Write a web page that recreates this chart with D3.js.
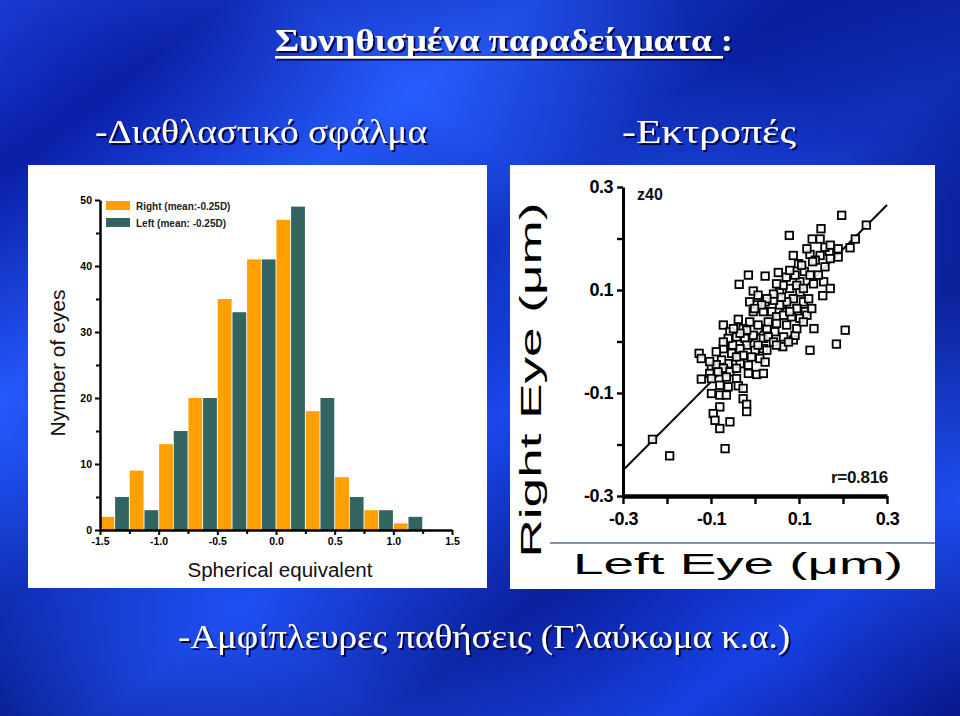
<!DOCTYPE html>
<html><head><meta charset="utf-8">
<script src="https://cdn.jsdelivr.net/npm/d3@7"></script>
<style>html,body{margin:0;padding:0;background:#0b2fd0;}svg{display:block;}</style>
</head><body>
<script>
// ---------- DATA ----------
const slideTitle = "Συνηθισμένα παραδείγματα :";
const leftHeading = "-Διαθλαστικό σφάλμα";
const rightHeading = "-Εκτροπές";
const bottomLine = "-Αμφίπλευρες παθήσεις (Γλαύκωμα κ.α.)";

// Histogram
const binStarts = [-1.5,-1.25,-1.0,-0.75,-0.5,-0.25,0.0,0.25,0.5,0.75,1.0,1.25];
const binWidth = 0.25;
const rightCounts = [2,9,13,20,35,41,47,18,8,3,1,0];
const leftCounts  = [5,3,15,20,33,41,49,20,5,3,2,0];
const seriesNames = ["Right (mean:-0.25D)","Left (mean: -0.25D)"];
const histXTicks = [-1.5,-1.0,-0.5,0.0,0.5,1.0,1.5];
const histXMinor = [-1.25,-0.75,-0.25,0.25,0.75,1.25];
const histYTicks = [0,10,20,30,40,50];
const histYMinor = [5,15,25,35,45];
const histYTitle = "Nymber of eyes";
const histXTitle = "Spherical equivalent";

// Scatter (Left eye x, Right eye y), z40 coefficient in µm
const leftEye = [0.197,0.253,0.150,0.078,0.130,0.148,0.228,0.216,0.189,0.169,0.189,0.087,0.125,0.148,0.137,0.099,0.112,0.131,0.159,0.171,
 0.156,0.171,0.154,0.133,0.144,0.125,0.102,0.091,0.071,0.053,0.023,-0.015,-0.036,-0.004,0.007,0.056,0.079,0.102,0.087,0.110,
 0.095,0.114,0.072,0.056,0.042,0.023,0.004,-0.004,0.019,0.038,0.049,0.065,0.083,0.102,0.118,0.134,0.205,0.185,0.125,0.087,
 0.091,0.065,0.045,0.027,0.007,-0.012,-0.027,-0.038,-0.072,-0.057,-0.042,-0.023,-0.004,0.019,0.030,0.042,0.063,0.019,0.000,-0.019,
 -0.034,-0.051,-0.072,-0.053,-0.027,-0.008,0.011,0.023,-0.015,-0.034,-0.061,-0.076,-0.127,-0.122,-0.099,-0.088,-0.072,-0.057,-0.042,-0.103,
 -0.084,-0.122,-0.099,-0.065,-0.042,-0.015,0.004,0.019,-0.080,-0.061,-0.038,-0.027,-0.099,-0.080,-0.065,-0.027,-0.019,-0.019,-0.080,-0.095,
 -0.091,-0.080,-0.057,-0.068,-0.233,-0.194,0.030,0.049,0.072,0.095,0.110,0.079,0.060,0.042,0.027,0.015,-0.012,-0.001,0.095,0.110,
 0.122,0.129,0.064,0.049,0.079,0.106,0.118,0.159,0.171,-0.019,-0.034,-0.049,-0.061,-0.072,-0.088,-0.103,-0.042,0.007,0.027,0.049,0.076];
const rightEye = [0.245,0.226,0.219,0.206,0.199,0.199,0.199,0.182,0.180,0.175,0.164,0.167,0.169,0.167,0.158,0.151,0.136,0.155,0.145,0.161,
 0.116,0.103,0.089,0.112,0.129,0.129,0.116,0.129,0.125,0.134,0.127,0.129,0.111,0.098,0.090,0.096,0.103,0.096,0.083,0.077,
 0.064,0.058,0.077,0.071,0.080,0.077,0.071,0.058,0.058,0.058,0.048,0.051,0.048,0.045,0.051,0.025,0.022,-0.005,-0.017,0.003,
 0.012,0.009,0.019,0.025,0.032,0.038,0.025,0.043,0.032,0.019,0.009,0.006,0.012,0.006,0.009,-0.001,-0.010,-0.014,-0.017,-0.007,
 -0.014,-0.007,-0.014,-0.023,-0.027,-0.030,-0.033,-0.040,-0.046,-0.043,-0.043,-0.036,-0.023,-0.033,-0.049,-0.045,-0.052,-0.059,-0.052,-0.062,
 -0.059,-0.073,-0.072,-0.069,-0.072,-0.062,-0.064,-0.062,-0.085,-0.088,-0.086,-0.091,-0.101,-0.104,-0.104,-0.111,-0.122,-0.136,-0.127,-0.140,
 -0.153,-0.169,-0.156,-0.208,-0.190,-0.222,0.038,0.035,0.032,0.025,0.038,0.058,0.086,0.092,0.083,0.071,0.077,0.064,0.109,0.103,
 0.083,0.064,0.109,0.112,0.138,0.148,0.180,0.183,0.187,0.022,0.016,0.025,0.006,-0.001,-0.020,-0.039,-0.030,-0.007,-0.017,-0.007,-0.001];
const fitX = [-0.3, 0.3];
const fitY = [-0.25, 0.265];
const scatTicks = [-0.3,-0.1,0.1,0.3];
const scatMinor = [-0.2,0.0,0.2];
const scatXTitle = "Left Eye (μm)";
const scatYTitle = "Right Eye (μm)";
const coefLabel = "z40";
const corrLabel = "r=0.816";

// ---------- DRAW ----------
const W = 960, H = 716;
const svg = d3.select("body").append("svg").attr("width", W).attr("height", H);
const defs = svg.append("defs");

const bg = defs.append("linearGradient").attr("id","bg")
  .attr("x1","0").attr("y1","0").attr("x2","1").attr("y2","1");
[[0,"#1a3cd8"],[0.12,"#0a1ea8"],[0.28,"#2458ff"],[0.42,"#0d2cc0"],[0.55,"#1c48f0"],[0.7,"#0a1f9e"],[0.85,"#1742e8"],[1,"#08168a"]]
  .forEach(([o,c]) => bg.append("stop").attr("offset",o).attr("stop-color",c));
const bg2 = defs.append("linearGradient").attr("id","bg2")
  .attr("x1","0").attr("y1","1").attr("x2","1").attr("y2","0");
[[0,"rgba(0,10,90,0.55)"],[0.2,"rgba(40,100,255,0.25)"],[0.45,"rgba(0,10,90,0.0)"],[0.65,"rgba(50,110,255,0.25)"],[0.85,"rgba(0,10,100,0.35)"],[1,"rgba(0,10,100,0.5)"]]
  .forEach(([o,c]) => bg2.append("stop").attr("offset",o).attr("stop-color",c));
svg.append("rect").attr("width",W).attr("height",H).attr("fill","url(#bg)");
svg.append("rect").attr("width",W).attr("height",H).attr("fill","url(#bg2)");

const shadow = defs.append("filter").attr("id","shadow").attr("x","-5%").attr("y","-20%").attr("width","115%").attr("height","150%");
shadow.append("feDropShadow").attr("dx",2).attr("dy",2).attr("stdDeviation",0.6).attr("flood-color","#000030").attr("flood-opacity",0.9);

const serif = "'Liberation Serif','Times New Roman',serif";
const sans = "'Liberation Sans',Arial,Helvetica,sans-serif";

function shadowText(x, y, txt, size, weight, len, underline) {
  const g = svg.append("g").attr("filter","url(#shadow)");
  g.append("text").attr("x", x).attr("y", y).text(txt)
    .attr("font-family", serif).attr("font-size", size).attr("font-weight", weight)
    .attr("fill", "#fff").attr("textLength", len).attr("lengthAdjust","spacingAndGlyphs");
  if (underline) g.append("rect").attr("x", x).attr("y", y+5).attr("width", underline).attr("height", 2.5).attr("fill", "#fff");
}
shadowText(275, 51, slideTitle, 32, "bold", 458, 448);
shadowText(95, 143, leftHeading, 34, "normal", 332, 0);
shadowText(622, 143, rightHeading, 34, "normal", 174, 0);
shadowText(178, 648, bottomLine, 34, "normal", 612, 0);

// ---------- Histogram panel ----------
svg.append("rect").attr("x",28).attr("y",165).attr("width",459).attr("height",423).attr("fill","#ffffff");
const xH = d3.scaleLinear().domain([-1.5,1.5]).range([100,452]);
const yH = d3.scaleLinear().domain([0,50]).range([530,200]);
const sub = d3.scaleBand().domain(["R","L"]).range([0, xH(binWidth)-xH(0)]).paddingInner(0.06).paddingOuter(0.03);
const colors = {R:"#ff9f00", L:"#336461"};
const hist = svg.append("g");
binStarts.forEach((b,i) => {
  [["R",rightCounts[i]],["L",leftCounts[i]]].forEach(([k,v]) => {
    if (v <= 0) return;
    hist.append("rect").attr("x", xH(b)+sub(k)).attr("width", sub.bandwidth())
      .attr("y", yH(v)).attr("height", yH(0)-yH(v)).attr("fill", colors[k]);
  });
});
const fmt1 = d => d.toFixed(1);
function styleAxis(g, fs, sw) {
  g.select(".domain").attr("stroke","#000").attr("stroke-width", sw);
  g.selectAll(".tick line").attr("stroke","#000").attr("stroke-width", sw*0.8);
  g.selectAll("text").attr("font-family", sans).attr("font-weight","bold").attr("font-size", fs).attr("fill","#000");
}
const hy = svg.append("g").attr("transform","translate(100,0)")
  .call(d3.axisLeft(yH).tickValues(histYTicks).tickSize(5).tickSizeOuter(0).tickPadding(3));
styleAxis(hy, 10.5, 2.5);
const hyM = svg.append("g").attr("transform","translate(100,0)")
  .call(d3.axisLeft(yH).tickValues(histYMinor).tickSize(4).tickFormat(""));
hyM.select(".domain").remove(); hyM.selectAll("line").attr("stroke","#000").attr("stroke-width",2);
const hx = svg.append("g").attr("transform","translate(0,530)")
  .call(d3.axisBottom(xH).tickValues(histXTicks).tickSize(5).tickSizeOuter(0).tickPadding(3).tickFormat(fmt1));
styleAxis(hx, 10.5, 2.5);
const hxM = svg.append("g").attr("transform","translate(0,530)")
  .call(d3.axisBottom(xH).tickValues(histXMinor).tickSize(4).tickFormat(""));
hxM.select(".domain").remove(); hxM.selectAll("line").attr("stroke","#000").attr("stroke-width",2);

seriesNames.forEach((n,i) => {
  const k = i === 0 ? "R" : "L";
  const y0 = 201 + i*17;
  svg.append("rect").attr("x",106).attr("y",y0).attr("width",24).attr("height",9).attr("fill",colors[k]);
  svg.append("text").attr("x",136).attr("y",y0+8.5).text(n)
    .attr("font-family",sans).attr("font-weight","bold").attr("font-size",10).attr("fill","#222");
});
svg.append("text").attr("transform","translate(65,363) rotate(-90)").attr("text-anchor","middle")
  .text(histYTitle).attr("font-family",sans).attr("font-size",20).attr("fill","#111")
  .attr("textLength",147).attr("lengthAdjust","spacingAndGlyphs");
svg.append("text").attr("x",280).attr("y",577).attr("text-anchor","middle")
  .text(histXTitle).attr("font-family",sans).attr("font-size",19.5).attr("fill","#111")
  .attr("textLength",185).attr("lengthAdjust","spacingAndGlyphs");

// ---------- Scatter panel ----------
svg.append("rect").attr("x",510).attr("y",165).attr("width",425).attr("height",424).attr("fill","#ffffff");
const xS = d3.scaleLinear().domain([-0.3,0.3]).range([623,887]);
const yS = d3.scaleLinear().domain([-0.3,0.3]).range([496,187]);

svg.append("line").attr("x1",xS(fitX[0])).attr("y1",yS(fitY[0])).attr("x2",xS(fitX[1])).attr("y2",yS(fitY[1]))
  .attr("stroke","#000").attr("stroke-width",2);
const sq = 7.5;
svg.append("g").selectAll("rect").data(leftEye.map((v,i)=>[v,rightEye[i]])).join("rect")
  .attr("x", d => xS(d[0])-sq/2).attr("y", d => yS(d[1])-sq/2)
  .attr("width", sq).attr("height", sq)
  .attr("fill","#fff").attr("fill-opacity",0.85).attr("stroke","#000").attr("stroke-width",1.8);

const sy = svg.append("g").attr("transform","translate(623,0)")
  .call(d3.axisLeft(yS).tickValues(scatTicks).tickSize(6).tickSizeOuter(0).tickPadding(4).tickFormat(fmt1));
styleAxis(sy, 18, 3);
sy.selectAll("text").attr("letter-spacing","-0.5");
const syM = svg.append("g").attr("transform","translate(623,0)")
  .call(d3.axisLeft(yS).tickValues(scatMinor).tickSize(6).tickFormat(""));
syM.select(".domain").remove(); syM.selectAll("line").attr("stroke","#000").attr("stroke-width",2.4);
const sx = svg.append("g").attr("transform","translate(0,496)")
  .call(d3.axisBottom(xS).tickValues(scatTicks).tickSize(8).tickSizeOuter(0).tickPadding(8).tickFormat(fmt1));
styleAxis(sx, 18, 4.5);
sx.selectAll(".tick line").attr("stroke-width",2.4);
sx.selectAll("text").attr("letter-spacing","-0.5");
const sxM = svg.append("g").attr("transform","translate(0,496)")
  .call(d3.axisBottom(xS).tickValues(scatMinor).tickSize(8).tickFormat(""));
sxM.select(".domain").remove(); sxM.selectAll("line").attr("stroke","#000").attr("stroke-width",2.4);

svg.append("text").attr("x",637).attr("y",200).text(coefLabel)
  .attr("font-family",sans).attr("font-weight","bold").attr("font-size",16).attr("fill","#111");
svg.append("text").attr("x",888).attr("y",483).attr("text-anchor","end").text(corrLabel)
  .attr("font-family",sans).attr("font-weight","bold").attr("font-size",17).attr("fill","#111").attr("letter-spacing","-0.3");

svg.append("line").attr("x1",550).attr("x2",935).attr("y1",543).attr("y2",543)
  .attr("stroke","#4f6c9c").attr("stroke-width",1.5);
svg.append("text").attr("transform","translate(541,380) rotate(-90)").attr("text-anchor","middle")
  .text(scatYTitle).attr("font-family",sans).attr("font-size",30).attr("fill","#000")
  .attr("textLength",355).attr("lengthAdjust","spacingAndGlyphs");
svg.append("text").attr("x",738).attr("y",574).attr("text-anchor","middle")
  .text(scatXTitle).attr("font-family",sans).attr("font-size",29).attr("fill","#000")
  .attr("textLength",330).attr("lengthAdjust","spacingAndGlyphs");
</script>
</body></html>
